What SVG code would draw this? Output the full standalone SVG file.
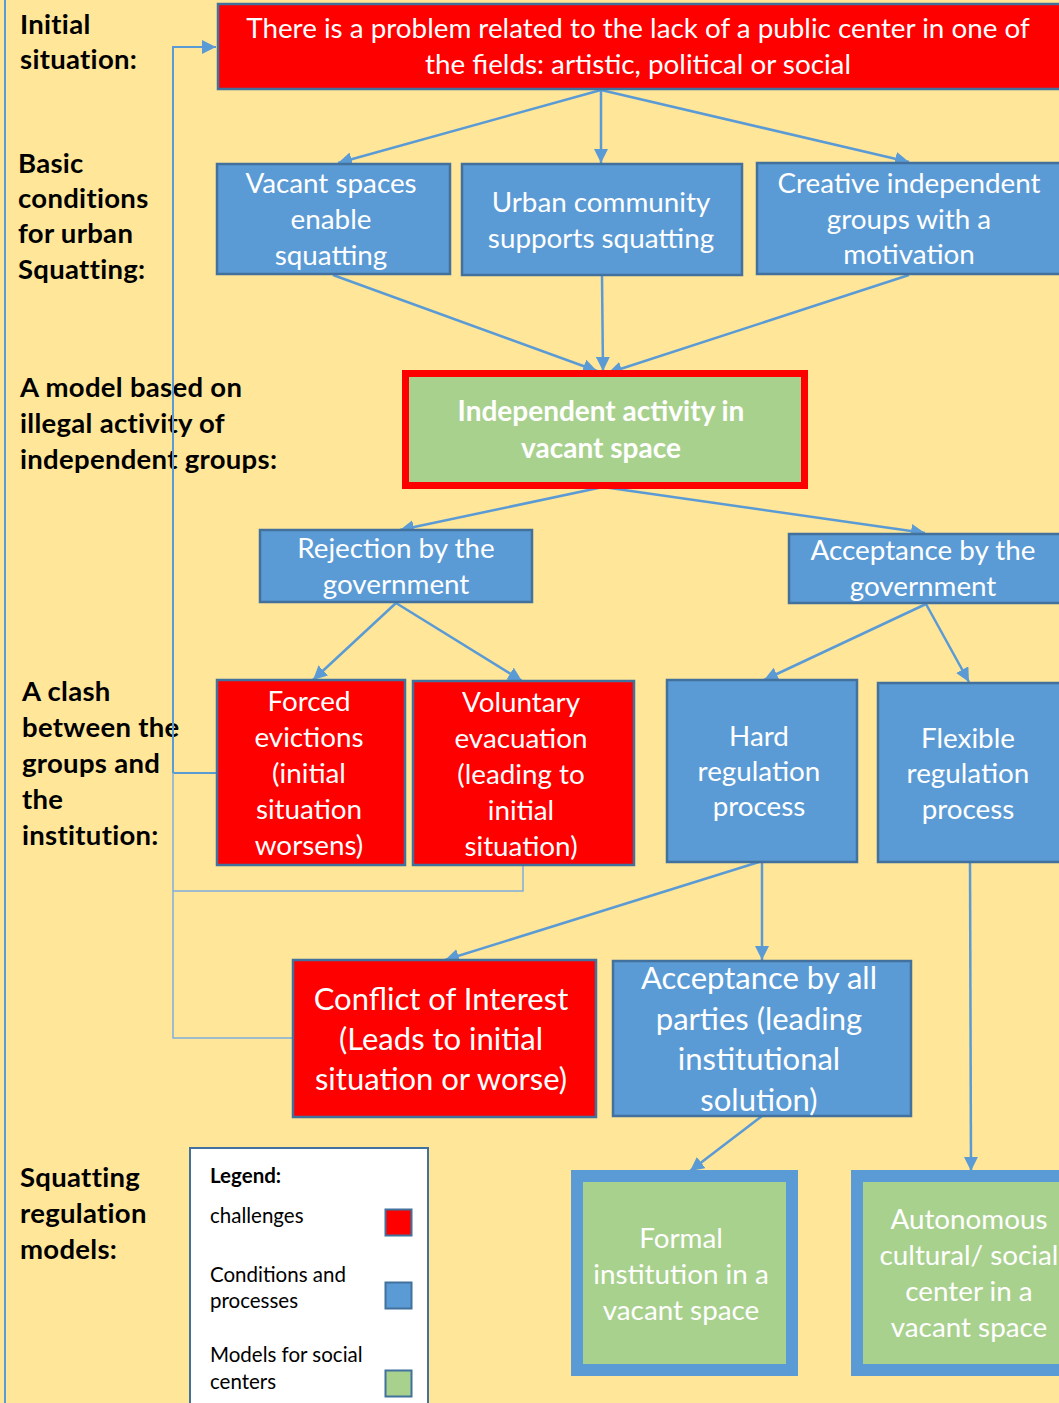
<svg xmlns="http://www.w3.org/2000/svg" width="1059" height="1403" viewBox="0 0 1059 1403">
<defs>
<marker id="arr" viewBox="0 0 10 10" refX="10" refY="5" markerWidth="14" markerHeight="14" markerUnits="userSpaceOnUse" orient="auto">
<path d="M0,0 L10,5 L0,10 z" fill="#5B9BD5"/>
</marker>
<style>
.red{fill:#FF0000;stroke:#41719C;stroke-width:2.5}
.blue{fill:#5B9BD5;stroke:#41719C;stroke-width:2.5}
.t{font-family:Lato,"Open Sans",sans-serif;font-size:27.8px;fill:#FFFFFF;text-anchor:middle}
.tb{font-family:Lato,"Open Sans",sans-serif;font-size:28px;font-weight:bold;fill:#FFFFFF;text-anchor:middle}
.tl{font-family:Lato,"Open Sans",sans-serif;font-size:31px;fill:#FFFFFF;text-anchor:middle}
.lab{font-family:Lato,"Open Sans",sans-serif;font-size:27.5px;font-weight:bold;fill:#000000;letter-spacing:0.3px}
.leg{font-family:Lato,"Open Sans",sans-serif;font-size:20.5px;fill:#000000}
.c{fill:none;stroke:#5B9BD5;stroke-width:2.5}
.fb{fill:none;stroke:#5B9BD5;stroke-width:2}
.fb2{fill:none;stroke:#7FAFDC;stroke-width:1.5}
</style>
</defs>
<rect x="0" y="0" width="1059" height="1403" fill="#FFE699"/>
<line x1="5" y1="0" x2="5" y2="1403" stroke="#5B9BD5" stroke-width="2"/>

<g id="labels">
<text class="lab" x="20" y="34">Initial</text>
<text class="lab" x="20" y="69">situation:</text>
<text class="lab" x="18" y="173">Basic</text>
<text class="lab" x="18" y="208">conditions</text>
<text class="lab" x="18" y="243">for urban</text>
<text class="lab" x="18" y="279">Squatting:</text>
<text class="lab" x="20" y="397">A model based on</text>
<text class="lab" x="20" y="433">illegal activity of</text>
<text class="lab" x="20" y="469">independent groups:</text>
<text class="lab" x="22" y="701">A clash</text>
<text class="lab" x="22" y="737">between the</text>
<text class="lab" x="22" y="773">groups and</text>
<text class="lab" x="22" y="809">the</text>
<text class="lab" x="22" y="845">institution:</text>
<text class="lab" x="20" y="1187">Squatting</text>
<text class="lab" x="20" y="1223">regulation</text>
<text class="lab" x="20" y="1259">models:</text>
</g>

<g id="connectors">
<path class="fb" d="M173,773 L173,47 L216,47" marker-end="url(#arr)"/>
<path class="fb" d="M217,773 L173,773"/>
<path class="fb2" d="M173,773 L173,1038 L293,1038"/>
<path class="fb2" d="M523,865 L523,891 L173,891"/>
<line class="c" x1="601" y1="90" x2="338" y2="163" marker-end="url(#arr)"/>
<line class="c" x1="601" y1="90" x2="601" y2="163" marker-end="url(#arr)"/>
<line class="c" x1="601" y1="90" x2="909" y2="162" marker-end="url(#arr)"/>
<line class="c" x1="333" y1="275" x2="597" y2="371" marker-end="url(#arr)"/>
<line class="c" x1="602" y1="275" x2="603" y2="371" marker-end="url(#arr)"/>
<line class="c" x1="909" y1="275" x2="608" y2="373" marker-end="url(#arr)"/>
<line class="c" x1="603" y1="487" x2="400" y2="530" marker-end="url(#arr)"/>
<line class="c" x1="603" y1="487" x2="925" y2="533" marker-end="url(#arr)"/>
<line class="c" x1="396" y1="603" x2="313" y2="680" marker-end="url(#arr)"/>
<line class="c" x1="396" y1="603" x2="522" y2="681" marker-end="url(#arr)"/>
<line class="c" x1="926" y1="604" x2="764" y2="680" marker-end="url(#arr)"/>
<line class="c" x1="926" y1="604" x2="969" y2="682" marker-end="url(#arr)"/>
<line class="c" x1="759" y1="862" x2="445" y2="960" marker-end="url(#arr)"/>
<line class="c" x1="762" y1="862" x2="762" y2="960" marker-end="url(#arr)"/>
<line class="c" x1="762" y1="1116" x2="690" y2="1171" marker-end="url(#arr)"/>
<line class="c" x1="970" y1="862" x2="971" y2="1171" marker-end="url(#arr)"/>
</g>

<g id="n-initial">
<rect class="red" x="218" y="4" width="850" height="85"/>
<text class="t" x="638" y="38">There is a problem related to the lack of a public center in one of</text>
<text class="t" x="638" y="74">the fields: artistic, political or social</text>
</g>

<g id="n-vacant">
<rect class="blue" x="217" y="164" width="233" height="110"/>
<text class="t" x="331" y="193">Vacant spaces</text>
<text class="t" x="331" y="229">enable</text>
<text class="t" x="331" y="265">squatting</text>
</g>

<g id="n-urban">
<rect class="blue" x="462" y="164" width="280" height="111"/>
<text class="t" x="601" y="212">Urban community</text>
<text class="t" x="601" y="248">supports squatting</text>
</g>

<g id="n-creative">
<rect class="blue" x="757" y="163" width="310" height="111"/>
<text class="t" x="909" y="193">Creative independent</text>
<text class="t" x="909" y="229">groups with a</text>
<text class="t" x="909" y="264">motivation</text>
</g>

<g id="n-independent">
<rect x="405.5" y="373.5" width="399" height="112" fill="#A9D18E" stroke="#FF0000" stroke-width="7"/>
<text class="tb" x="601" y="421">Independent activity in</text>
<text class="tb" x="601" y="458">vacant space</text>
</g>

<g id="n-rejection">
<rect class="blue" x="260" y="530" width="272" height="72"/>
<text class="t" x="396" y="558">Rejection by the</text>
<text class="t" x="396" y="594">government</text>
</g>

<g id="n-acceptance">
<rect class="blue" x="789" y="534" width="278" height="69"/>
<text class="t" x="923" y="560">Acceptance by the</text>
<text class="t" x="923" y="596">government</text>
</g>

<g id="n-forced">
<rect class="red" x="217" y="680" width="188" height="185"/>
<text class="t" x="309" y="711">Forced</text>
<text class="t" x="309" y="747">evictions</text>
<text class="t" x="309" y="783">(initial</text>
<text class="t" x="309" y="819">situation</text>
<text class="t" x="309" y="855">worsens)</text>
</g>

<g id="n-voluntary">
<rect class="red" x="413" y="681" width="221" height="184"/>
<text class="t" x="521" y="712">Voluntary</text>
<text class="t" x="521" y="748">evacuation</text>
<text class="t" x="521" y="784">(leading to</text>
<text class="t" x="521" y="820">initial</text>
<text class="t" x="521" y="856">situation)</text>
</g>

<g id="n-hard">
<rect class="blue" x="667" y="680" width="190" height="182"/>
<text class="t" x="759" y="746">Hard</text>
<text class="t" x="759" y="781">regulation</text>
<text class="t" x="759" y="816">process</text>
</g>

<g id="n-flexible">
<rect class="blue" x="878" y="683" width="190" height="179"/>
<text class="t" x="968" y="748">Flexible</text>
<text class="t" x="968" y="783">regulation</text>
<text class="t" x="968" y="819">process</text>
</g>

<g id="n-conflict">
<rect class="red" x="293" y="960" width="303" height="157"/>
<text class="tl" x="441" y="1010">Conflict of Interest</text>
<text class="tl" x="441" y="1050">(Leads to initial</text>
<text class="tl" x="441" y="1090">situation or worse)</text>
</g>

<g id="n-allparties">
<rect class="blue" x="613" y="961" width="298" height="155"/>
<text class="tl" x="759" y="989">Acceptance by all</text>
<text class="tl" x="759" y="1030">parties (leading</text>
<text class="tl" x="759" y="1070">institutional</text>
<text class="tl" x="759" y="1111">solution)</text>
</g>

<g id="n-formal">
<rect x="577" y="1176" width="215" height="194" fill="#A9D18E" stroke="#5B9BD5" stroke-width="12"/>
<text class="t" x="681" y="1248">Formal</text>
<text class="t" x="681" y="1284">institution in a</text>
<text class="t" x="681" y="1320">vacant space</text>
</g>

<g id="n-autonomous">
<rect x="857" y="1176" width="215" height="194" fill="#A9D18E" stroke="#5B9BD5" stroke-width="12"/>
<text class="t" x="969" y="1229">Autonomous</text>
<text class="t" x="969" y="1265">cultural/ social</text>
<text class="t" x="969" y="1301">center in a</text>
<text class="t" x="969" y="1337">vacant space</text>
</g>

<g id="legend">
<rect x="190" y="1148" width="238" height="270" fill="#FFFFFF" stroke="#41719C" stroke-width="2"/>
<text class="leg" x="210" y="1183" font-weight="bold">Legend:</text>
<text class="leg" x="210" y="1223">challenges</text>
<rect x="385.5" y="1209.5" width="26" height="26" fill="#FF0000" stroke="#41719C" stroke-width="2"/>
<text class="leg" x="210" y="1282">Conditions and</text>
<text class="leg" x="210" y="1308">processes</text>
<rect x="385.5" y="1282.5" width="26" height="26" fill="#5B9BD5" stroke="#41719C" stroke-width="2"/>
<text class="leg" x="210" y="1362">Models for social</text>
<text class="leg" x="210" y="1389">centers</text>
<rect x="385.5" y="1370.5" width="26" height="26" fill="#A9D18E" stroke="#41719C" stroke-width="2"/>
</g>
</svg>
